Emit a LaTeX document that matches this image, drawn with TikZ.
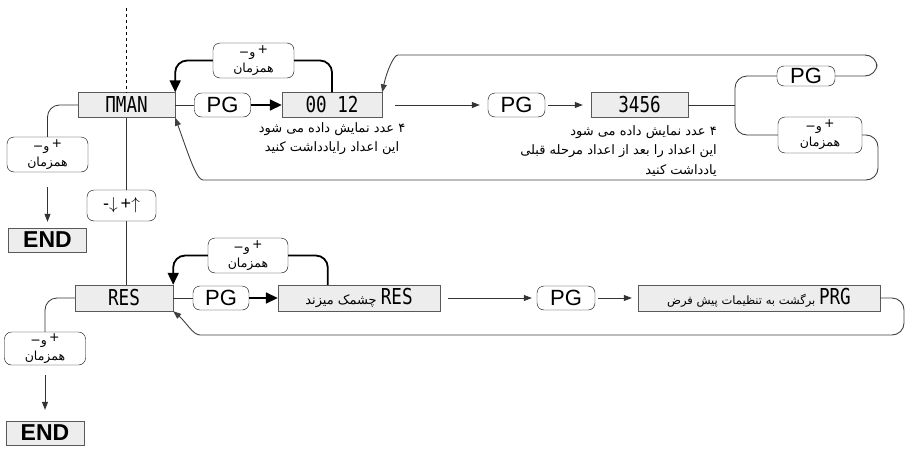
\documentclass[tikz,border=0pt]{standalone}
\usepackage{fontspec}
\setmainfont{Liberation Sans}
\newfontfamily\persfont[Script=Arabic]{DejaVu Sans}
\newfontfamily\segfont{DejaVu Sans Mono}
\usetikzlibrary{arrows.meta,positioning,calc}
\TeXXeTstate=1
\newcommand\segtxt[1]{\scalebox{1.1}[1.37]{\segfont\fontsize{16}{16}\selectfont #1}}
\newcommand\simkeys{\hbox{−}\hbox{و}\,\raisebox{3pt}{+}\\همزمان}

\begin{document}
\begin{tikzpicture}[x=1pt,y=-1pt,>={Triangle[length=8pt,width=6pt]},
  disp/.style={draw=black!65, fill=black!7, inner sep=0pt, minimum height=25pt},
  key/.style={draw, rounded corners=7pt, fill=white, inner sep=0pt, minimum width=56pt, minimum height=24pt, font=\fontsize{22}{22}\selectfont},
  both/.style={draw, rounded corners=7pt, fill=white, inner sep=0pt, minimum width=81pt, minimum height=35pt, align=center, font=\persfont\fontsize{12.5}{16}\selectfont},
  endbox/.style={draw=black!65, fill=black!7, inner sep=0pt, minimum width=78pt, minimum height=24pt, font=\bfseries\fontsize{23}{23}\selectfont},
  note/.style={inner sep=0pt, font=\persfont\fontsize{13}{19.5}\selectfont},
  link/.style={line width=0.8pt, draw=black!80},
  loopline/.style={line width=1.8pt, rounded corners=12pt},
  back/.style={line width=0.9pt, draw=black!75, rounded corners=12pt},
  bigtip/.style={-{Triangle[length=12pt,width=11pt]}}]
\useasboundingbox (0,0) rectangle (907,450);

% first row
\node[disp, minimum width=97pt] (nman) at (126.5,105) {\segtxt{ΠMAN}};
\node[key] (pg1) at (222.5,105) {PG};
\node[disp, minimum width=100pt] (d0012) at (332,105) {\segtxt{00 12}};
\node[both] (sim1) at (253.5,60.5) {\simkeys};
\node[note, align=center, anchor=north] (txt1) at (332,122)
  {\beginR ۴ عدد نمایش داده می شود\endR\\ \beginR این اعداد رایادداشت کنید\endR};
\node[key, minimum width=57pt] (pg2) at (516.5,105) {PG};
\node[disp, minimum width=97pt] (d3456) at (639.5,105) {\segtxt{3456}};
\node[note, align=right, anchor=north east] (txt2) at (717,125)
  {\beginR ۴ عدد نمایش داده می شود\endR\\ \beginR این اعداد را بعد از اعداد مرحله قبلی\endR\\ \beginR یادداشت کنید\endR};
\node[key, minimum width=58pt, minimum height=20pt] (pg3) at (806,76) {PG};
\node[both, minimum width=84pt, minimum height=36pt] (sim3) at (820,135) {\simkeys};
\coordinate (split) at (735,105);

% left exit
\node[both] (sim2) at (47.5,154.5) {\simkeys};
\node[endbox] (end1) at (47.5,240) {END};

% second row
\node[disp, minimum width=98pt, minimum height=26pt] (res) at (124,298) {\segtxt{RES}};
\node[key] (pg4) at (221,298) {PG};
\node[disp, minimum width=162pt, minimum height=26pt, font=\persfont\fontsize{13}{14}\selectfont] (res2) at (359,298)
  {\beginR\beginL\segtxt{RES}\endL\ چشمک میزند\endR};
\node[both, minimum width=80pt] (sim4) at (248,255.5) {\simkeys};
\node[key, minimum width=58pt] (pg5) at (566,298) {PG};
\node[disp, minimum width=242pt, minimum height=26pt, font=\persfont\fontsize{11.5}{14}\selectfont] (prg) at (759,298)
  {\beginR\beginL\segtxt{PRG}\endL\ برگشت به تنظیمات پیش فرض\endR};
\node[both, minimum height=33pt] (sim5) at (45,348.5) {\simkeys};
\node[endbox] (end2) at (45,433) {END};

% connectors
\coordinate (top) at (126.5,8);
\draw[dashed, line width=0.6pt] (top) -- (nman.north);
\draw[link] (nman.south) -- (nman.south |- res.north);
\node[key, minimum width=69pt, minimum height=31pt, font=\fontsize{18}{18}\selectfont] (updown) at (121.5,205.5) {-$\downarrow$\,+$\uparrow$};

\draw[link] (nman.east) -- (pg1.west);
\draw[line width=1.6pt, bigtip] (pg1.east) -- (d0012.west);
\draw[loopline] (d0012.north) |- (sim1.east);
\draw[loopline, bigtip] (sim1.west) -| (nman.north east);
\draw[link, ->, shorten <=13pt, shorten >=8pt] (d0012.east) -- (pg2.west);
\draw[link, ->, shorten <=3pt, shorten >=8pt] (pg2.east) -- (d3456.west);
\draw[link] (d3456.east) -- (split);
\draw[link, rounded corners=12pt] (pg3.west) -| (split) |- (sim3.west);
\draw[back, ->] (pg3.east) -- (877,76) -- (877,55) -- (410,55)
  .. controls (394,55) and (387,70) .. (d0012.north east);
\draw[back, ->] (sim3.east) -- (878,135) -- (878,180) -- (215,180)
  .. controls (196,180) and (187,150) .. (nman.south east);
\draw[link, rounded corners=12pt] (nman.west) -| (sim2.north);
\draw[link, ->, shorten <=15pt, shorten >=6pt] (sim2.south) -- (end1.north);

\draw[link] (res.east) -- (pg4.west);
\draw[line width=1.6pt, bigtip] (pg4.east) -- (res2.west);
\draw[loopline] ($(res2.north west)+(50,0)$) |- (sim4.east);
\draw[loopline, bigtip] (sim4.west) -| (res.north east);
\draw[link, ->, shorten <=8pt, shorten >=5pt] (res2.east) -- (pg5.west);
\draw[link, ->, shorten <=3pt, shorten >=6pt] (pg5.east) -- (prg.west);
\draw[back, ->] (prg.east) -- (904,298) -- (904,335) -- (212,335)
  .. controls (193,335) and (186,322) .. (res.south east);
\draw[link, rounded corners=12pt] (res.west) -| (sim5.north);
\draw[link, ->, shorten <=10pt, shorten >=11pt] (sim5.south) -- (end2.north);
\end{tikzpicture}
\end{document}
